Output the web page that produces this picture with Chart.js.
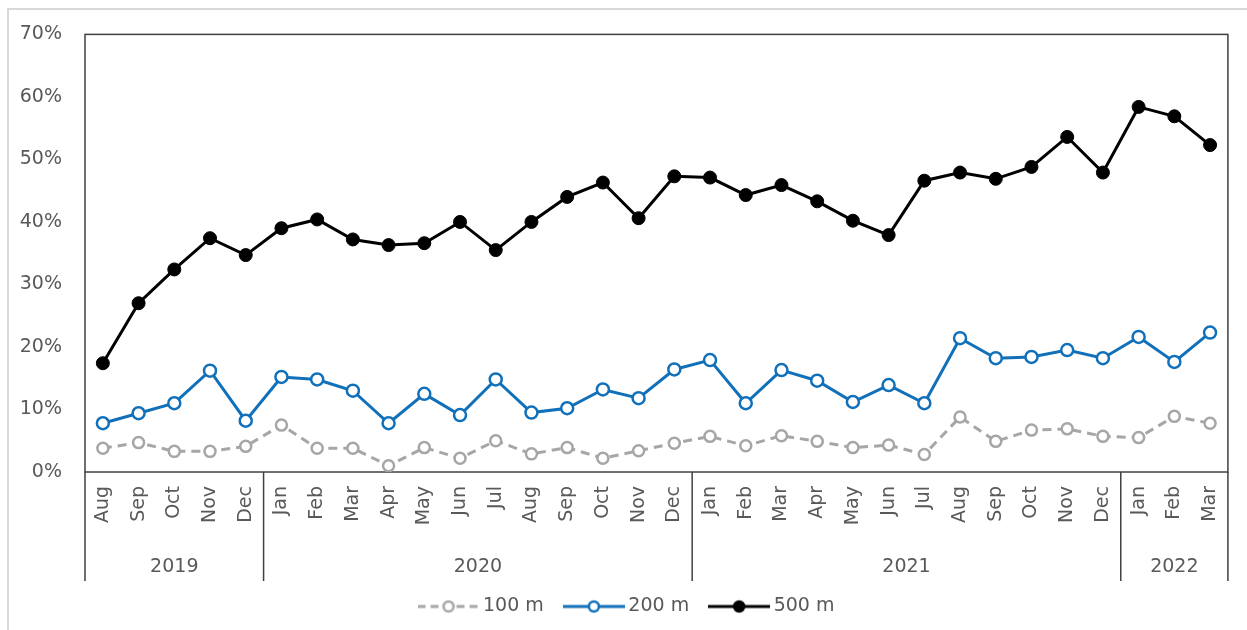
<!DOCTYPE html>
<html>
<head>
<meta charset="utf-8">
<title>Share by distance</title>
<script src="https://cdn.jsdelivr.net/npm/chart.js@4"></script>
<style>
  body { margin: 0; background: #fff; }
  canvas { display: block; }
</style>
</head>
<body>
<canvas id="distanceChart" width="1247" height="630"></canvas>
<script>
// Months Aug 2019 - Mar 2022
const months = ['Aug', 'Sep', 'Oct', 'Nov', 'Dec',
  'Jan', 'Feb', 'Mar', 'Apr', 'May', 'Jun', 'Jul', 'Aug', 'Sep', 'Oct', 'Nov', 'Dec',
  'Jan', 'Feb', 'Mar', 'Apr', 'May', 'Jun', 'Jul', 'Aug', 'Sep', 'Oct', 'Nov', 'Dec',
  'Jan', 'Feb', 'Mar'];
const years = ['2019', '2020', '2021', '2022'];
const monthsPerYear = [5, 12, 12, 3];

const share100 = [3.8, 4.7, 3.3, 3.3, 4.1,
  7.5, 3.8, 3.8, 1.0, 3.9, 2.2, 5.0, 2.9, 3.9, 2.2, 3.4, 4.6,
  5.7, 4.2, 5.8, 4.9, 3.9, 4.3, 2.8, 8.8, 4.9, 6.7, 6.9, 5.7,
  5.5, 8.9, 7.8];
const share200 = [7.8, 9.4, 11.0, 16.2, 8.2,
  15.2, 14.8, 13.0, 7.8, 12.5, 9.1, 14.8, 9.5, 10.2, 13.2, 11.8, 16.4,
  17.9, 11.0, 16.3, 14.6, 11.2, 13.9, 11.0, 21.4, 18.2, 18.4, 19.5, 18.2,
  21.6, 17.6, 22.3];
const share500 = [17.4, 27.0, 32.4, 37.4, 34.7,
  39.0, 40.4, 37.2, 36.3, 36.6, 40.0, 35.5, 40.0, 44.0, 46.3, 40.6, 47.3,
  47.1, 44.3, 45.9, 43.3, 40.2, 37.9, 46.6, 47.9, 46.9, 48.8, 53.6, 47.9,
  58.4, 56.9, 52.3];

const textColor = '#595959';
const lineColor = '#404040';
const fontFamily = '"DejaVu Sans", sans-serif';
const fontSize = 19;

// legend marker: short line with the point in the middle
function legendIcon(color, dash, filled) {
  const c = document.createElement('canvas');
  c.width = 62;
  c.height = 16;
  const ctx = c.getContext('2d');
  ctx.strokeStyle = color;
  ctx.lineWidth = 3;
  ctx.setLineDash(dash);
  ctx.beginPath();
  ctx.moveTo(0, 8);
  ctx.lineTo(62, 8);
  ctx.stroke();
  ctx.setLineDash([]);
  ctx.beginPath();
  ctx.arc(31, 8, 5, 0, Math.PI * 2);
  ctx.fillStyle = filled ? color : '#fff';
  ctx.fill();
  ctx.lineWidth = 2.5;
  ctx.stroke();
  return c;
}

// frame, year row and dividers
const yearRowPlugin = {
  id: 'yearRow',
  beforeDraw(chart) {
    const ctx = chart.ctx;
    ctx.save();
    ctx.strokeStyle = '#d9d9d9';
    ctx.lineWidth = 2;
    ctx.beginPath();
    ctx.moveTo(8, chart.height);
    ctx.lineTo(8, 9);
    ctx.lineTo(chart.width, 9);
    ctx.stroke();
    ctx.restore();
  },
  beforeDatasetsDraw(chart) {
    const {ctx, chartArea} = chart;
    ctx.save();
    ctx.strokeStyle = lineColor;
    ctx.lineWidth = 1.5;
    ctx.strokeRect(chartArea.left, chartArea.top, chartArea.right - chartArea.left, chartArea.bottom - chartArea.top);
    ctx.restore();
  },
  afterDraw(chart) {
    const {ctx, chartArea} = chart;
    const xScale = chart.scales.x;
    const bottom = chartArea.bottom + 109;
    const edges = [chartArea.left];
    let idx = 0;
    monthsPerYear.forEach((n, i) => {
      idx += n;
      if (i < monthsPerYear.length - 1) {
        edges.push((xScale.getPixelForValue(idx - 1) + xScale.getPixelForValue(idx)) / 2);
      } else {
        edges.push(chartArea.right);
      }
    });
    ctx.save();
    ctx.strokeStyle = lineColor;
    ctx.lineWidth = 1.5;
    edges.forEach(x => {
      ctx.beginPath();
      ctx.moveTo(x, chartArea.bottom);
      ctx.lineTo(x, bottom);
      ctx.stroke();
    });
    ctx.fillStyle = textColor;
    ctx.font = fontSize + 'px ' + fontFamily;
    ctx.textAlign = 'center';
    ctx.textBaseline = 'middle';
    years.forEach((y, i) => {
      ctx.fillText(y, (edges[i] + edges[i + 1]) / 2, chartArea.bottom + 95);
    });
    ctx.restore();
  }
};

const chart = new Chart(document.getElementById('distanceChart'), {
  type: 'line',
  data: {
    labels: months,
    datasets: [{
      label: '100 m',
      data: share100,
      borderColor: '#a6a6a6',
      borderWidth: 3,
      borderDash: [9, 6],
      pointRadius: 5.5,
      pointBorderWidth: 2.5,
      pointBackgroundColor: '#fff',
      pointBorderColor: '#a6a6a6',
      legendIcon: legendIcon('#a6a6a6', [8, 5], false)
    }, {
      label: '200 m',
      data: share200,
      borderColor: '#1170ba',
      borderWidth: 3,
      pointRadius: 6,
      pointBorderWidth: 2.5,
      pointBackgroundColor: '#fff',
      pointBorderColor: '#1170ba',
      legendIcon: legendIcon('#1170ba', [], false)
    }, {
      label: '500 m',
      data: share500,
      borderColor: '#000',
      borderWidth: 3,
      pointRadius: 6.5,
      pointBorderWidth: 1,
      pointBackgroundColor: '#000',
      pointBorderColor: '#000',
      legendIcon: legendIcon('#000', [], true)
    }]
  },
  options: {
    responsive: false,
    animation: false,
    devicePixelRatio: 1,
    layout: {
      padding: { top: 32, left: 20, right: 9, bottom: 4 }
    },
    scales: {
      x: {
        offset: true,
        grid: { display: false, drawTicks: false },
        border: { display: false },
        ticks: {
          autoSkip: false,
          minRotation: 90,
          maxRotation: 90,
          padding: 14,
          color: textColor,
          font: { family: fontFamily, size: fontSize }
        },
        afterFit(scale) { scale.height = 100; }
      },
      y: {
        min: 0,
        max: 70,
        grid: { display: false, drawTicks: false },
        border: { display: false },
        ticks: {
          stepSize: 10,
          padding: 23,
          color: textColor,
          font: { family: fontFamily, size: fontSize },
          callback: v => v + '%'
        },
        afterFit(scale) { scale.width = 65; }
      }
    },
    plugins: {
      tooltip: { enabled: false },
      legend: {
        position: 'bottom',
        labels: {
          usePointStyle: true,
          pointStyleWidth: 50,
          padding: 25,
          color: textColor,
          font: { family: fontFamily, size: fontSize },
          generateLabels(chart) {
            return chart.data.datasets.map((ds, i) => ({
              text: ds.label,
              pointStyle: ds.legendIcon,
              fillStyle: ds.borderColor,
              strokeStyle: ds.borderColor,
              lineWidth: 0,
              fontColor: textColor,
              hidden: false,
              datasetIndex: i
            }));
          }
        }
      }
    }
  },
  plugins: [yearRowPlugin]
});
</script>
</body>
</html>
